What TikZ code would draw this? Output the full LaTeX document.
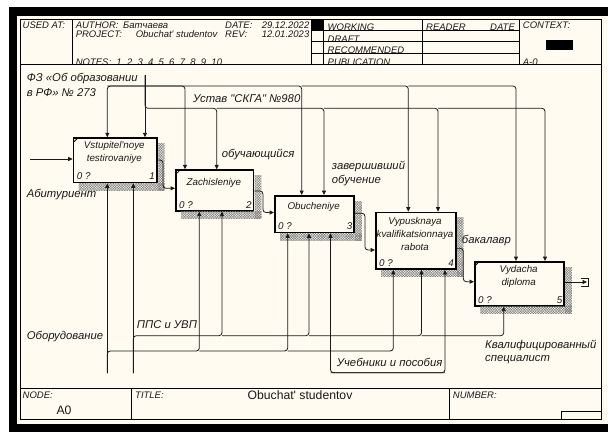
\documentclass[tikz,border=0pt]{standalone}
\usepackage{fontspec}
\newfontfamily\af{Liberation Sans}
\usetikzlibrary{arrows.meta,patterns.meta,calc}
\definecolor{cream}{RGB}{255,251,240}
\definecolor{ink}{RGB}{25,25,25}
\begin{document}
\begin{tikzpicture}[x=1pt,y=-1pt,
  ln/.style={draw=ink,line width=0.8pt},
  arr/.style={ln,-{Triangle[length=4.5pt,width=4pt]}},
  rc/.style={rounded corners=3pt},
  fr/.style={draw=black,line width=0.8pt},
  box/.style={draw=black,line width=1.6pt,fill=cream,anchor=north west,inner sep=0pt},
  shd/.style={pattern={Hatch[angle=45,distance=1.8pt,line width=0.5pt]},pattern color=gray},
  bt/.style={font=\af\itshape\fontsize{9.8}{13.2}\selectfont,text=ink,align=center,inner sep=0pt},
  nm/.style={font=\af\itshape\fontsize{9.8}{12}\selectfont,text=ink,inner sep=0pt},
  lab/.style={font=\af\itshape\fontsize{11.3}{13}\selectfont,text=ink,anchor=west,inner sep=0pt},
  hd/.style={font=\af\itshape\fontsize{9.5}{11}\selectfont,text=ink,anchor=base west,inner sep=0pt},
  hde/.style={hd,anchor=base east},
  ttl/.style={font=\af\fontsize{12.2}{14}\selectfont,text=ink,inner sep=0pt}
]
\useasboundingbox (0,0) rectangle (608,432);
\fill[white] (0,0) rectangle (608,432);
\fill[black] (9.3,7.3) rectangle (608,432);
\fill[cream] (17.3,16) rectangle (608,424);

% ---- header texts
\node[hd] (usedat) at (22.5,28.5) {USED AT:};
\node[hd] (author) at (75.6,28.5) {AUTHOR:};
\node[hd] (authn) at (123,28.5) {Батчаева};
\node[hd] (date) at (225,28.5) {DATE:};
\node[hde] (datev) at (309.5,28.5) {29.12.2022};
\node[hd] (proj) at (75.6,37.5) {PROJECT:};
\node[hd] (projn) at (135.6,37.5) {Obuchat' studentov};
\node[hd] (rev) at (225,37.5) {REV:};
\node[hde] (revv) at (309.5,37.5) {12.01.2023};
\node[hd] (notes) at (75.6,65.3) {NOTES:\ \ 1\ \ 2\ \ 3\ \ 4\ \ 5\ \ 6\ \ 7\ \ 8\ \ 9\ \ 10};
\node[hd] (working) at (327.5,30.9) {WORKING};
\node[hd] (draft) at (327.5,42) {DRAFT};
\node[hd] (recom) at (327.5,53.6) {RECOMMENDED};
\node[hd] (publ) at (327.5,65) {PUBLICATION};
\node[hd] (reader) at (426,30.9) {READER};
\node[hd] (rdate) at (490,30.9) {DATE};
\node[hd] (context) at (522.7,28.5) {CONTEXT:};
\node[hd] (actx) at (522.7,65) {A-0};

% ---- frame and header lines
\draw[fr] (20.7,19) rectangle (601.7,419.3);
\draw[fr] (20.7,64.3) -- (601.7,64.3);
\foreach \xx in {72.7,311,323.6,422.7,519.3} \draw[fr] (\xx,19) -- (\xx,64.3);
\foreach \yy in {30.7,41.7,53.3} \draw[fr] (311,\yy) -- (519.3,\yy);
\fill[black] (311,19) rectangle (323.6,30.7);
\fill[black] (545.7,40) rectangle (572.7,50);

% ---- footer
\draw[fr] (20.7,388.3) -- (601.7,388.3);
\draw[fr] (131.7,388.3) -- (131.7,419.3);
\draw[fr] (449.3,388.3) -- (449.3,419.3);
\draw[fr] (561.7,419.3) -- (561.7,411.7) -- (601.7,411.7);
\node[hd] (nodel) at (22.5,398.5) {NODE:};
\node[ttl] (nodev) at (64,410) {A0};
\node[hd] (titlel) at (135,398.5) {TITLE:};
\node[ttl] (titlev) at (300,395.5) {Obuchat' studentov};
\node[hd] (numl) at (452.7,398.5) {NUMBER:};

% ---- boxes
\node[box,minimum width=83.3pt,minimum height=44.4pt] (b1) at (72.7,137.3) {};
\node[box,minimum width=77.7pt,minimum height=40.7pt] (b2) at (175,169.3) {};
\node[box,minimum width=79.3pt,minimum height=36.7pt] (b3) at (274,195) {};
\node[box,minimum width=80pt,minimum height=56.6pt] (b4) at (375,211.7) {};
\node[box,minimum width=89.3pt,minimum height=44pt] (b5) at (474,261) {};
\foreach \b in {b1,b2,b3,b4,b5}{
  \fill[shd] ($(\b.north east)+(0.2,6)$) rectangle ($(\b.south east)+(7,7)$);
  \fill[shd] ($(\b.south west)+(6,0.2)$) rectangle ($(\b.south east)+(7,7)$);
}
\foreach \b in {b1,b2,b5}
  \draw[line width=0.8pt] ($(\b.north west)+(0.8,5)$) -- ($(\b.north west)+(5,0.8)$);

\node[bt] (t1) at (114.3,152.7) {Vstupitel'noye\\testirovaniye};
\node[bt] (t2) at (213.8,183.3) {Zachisleniye};
\node[bt] (t3) at (313.7,206.7) {Obucheniye};
\node[bt] (t4) at (415,233.7) {Vypusknaya\\kvalifikatsionnaya\\rabota};
\node[bt] (t5) at (518.7,276.7) {Vydacha\\diploma};
\foreach \b/\n in {b1/1,b2/2,b3/3,b4/4,b5/5}{
  \node[nm,anchor=west] at ($(\b.south west)+(4,-6.8)$) {0 ?};
  \node[nm,anchor=east] at ($(\b.south east)+(-2.5,-6.8)$) {\n};
}

% ---- labels
\node[lab] (lfz1) at (26.7,78.3) {ФЗ «Об образовании};
\node[lab] (lfz2) at (26.7,92.7) {в РФ» № 273};
\node[lab] (lust) at (193,98.3) {Устав "СКГА" №980};
\node[lab] (labit) at (26.7,195) {Абитуриент};
\node[lab] (lobu) at (221.7,154.3) {обучающийся};
\node[lab] (lzav1) at (331.7,166.7) {завершивший};
\node[lab] (lzav2) at (331.7,180.7) {обучение};
\node[lab] (lbak) at (461.7,241) {бакалавр};
\node[lab] (lpps) at (136.7,324.3) {ППС и УВП};
\node[lab] (lobo) at (26.7,336.7) {Оборудование};
\node[lab] (luch) at (336.7,362.7) {Учебники и пособия};
\node[lab] (lkv1) at (485,345.7) {Квалифицированный};
\node[lab] (lkv2) at (485,360) {специалист};

% ---- control arrows: ФЗ
\coordinate (f1) at (107.3,86);
\coordinate (f2) at (185,86);
\coordinate (f3) at (301.7,86);
\coordinate (f4) at (408.3,86);
\coordinate (f5) at (516,86);
\draw[arr,rc] (f2) -- (f1) -- (f1 |- b1.north);
\draw[arr,rc] (f1) -- (f2) -- (f2 |- b2.north);
\draw[arr,rc] (f2) -- (f3) -- (f3 |- b3.north);
\draw[arr,rc] (f3) -- (f4) -- (f4 |- b4.north);
\draw[arr,rc] (f4) -- (f5) -- (f5 |- b5.north);
% Устав
\coordinate (u0) at (145,75);
\coordinate (u1) at (145,108.3);
\coordinate (u2) at (216.7,108.3);
\coordinate (u3) at (324,108.3);
\coordinate (u4) at (438,108.3);
\coordinate (u5) at (545,108.3);
\draw[arr] (u0) -- (u0 |- b1.north);
\draw[arr,rc] (u0) -- (u1) -- (u2) -- (u2 |- b2.north);
\draw[arr,rc] (u2) -- (u3) -- (u3 |- b3.north);
\draw[arr,rc] (u3) -- (u4) -- (u4 |- b4.north);
\draw[arr,rc] (u4) -- (u5) -- (u5 |- b5.north);

% ---- mechanisms: Оборудование
\coordinate (o0) at (107.3,373.3);
\coordinate (o1) at (107.3,351);
\coordinate (o2) at (199.3,351);
\coordinate (o3) at (287.7,351);
\coordinate (o4) at (393.3,351);
\draw[arr] (o0) -- (o0 |- b1.south);
\draw[arr,rc] (o0) -- (o1) -- (o2) -- (o2 |- b2.south);
\draw[arr,rc] (o2) -- (o3) -- (o3 |- b3.south);
\draw[arr,rc] (o3) -- (o4) -- (o4 |- b4.south);
% ППС и УВП
\coordinate (p0) at (133.3,373.3);
\coordinate (p1) at (133.3,335.7);
\coordinate (p2) at (222,335.7);
\coordinate (p3) at (309,335.7);
\coordinate (p4) at (421.5,335.7);
\coordinate (p5) at (503.7,335.7);
\draw[arr] (p0) -- (p0 |- b1.south);
\draw[arr,rc] (p0) -- (p1) -- (p2) -- (p2 |- b2.south);
\draw[arr,rc] (p2) -- (p3) -- (p3 |- b3.south);
\draw[arr,rc] (p3) -- (p4) -- (p4 |- b4.south);
\draw[arr,rc] (p4) -- (p5) -- (p5 |- b5.south);
% Учебники
\coordinate (c1) at (330.5,372.7);
\coordinate (c2) at (445,372.7);
\draw[arr,rc] (c2) -- (c1) -- (c1 |- b3.south);
\draw[arr,rc] (c1) -- (c2) -- (c2 |- b4.south);

% ---- inputs / outputs
\coordinate (in0) at (30,159);
\draw[arr] (in0) -- (in0 -| b1.west);
\coordinate (k1a) at (163,160);   \coordinate (k1b) at (163,188.3);
\coordinate (k2a) at (263,191);   \coordinate (k2b) at (263,212.5);
\coordinate (k3a) at (365,213.3); \coordinate (k3b) at (365,250);
\coordinate (k4a) at (463.3,248.3); \coordinate (k4b) at (463.3,281.7);
\draw[arr,rc] (k1a -| b1.east) -- (k1a) -- (k1b) -- (k1b -| b2.west);
\draw[arr,rc] (k2a -| b2.east) -- (k2a) -- (k2b) -- (k2b -| b3.west);
\draw[arr,rc] (k3a -| b3.east) -- (k3a) -- (k3b) -- (k3b -| b4.west);
\draw[arr,rc] (k4a -| b4.east) -- (k4a) -- (k4b) -- (k4b -| b5.west);
\coordinate (out) at (587,282);
\draw[arr] (out -| b5.east) -- (out);
\draw[ln] (581,278) -- (588.5,278) -- (588.5,286.5) -- (581,286.5);
\end{tikzpicture}
\end{document}
